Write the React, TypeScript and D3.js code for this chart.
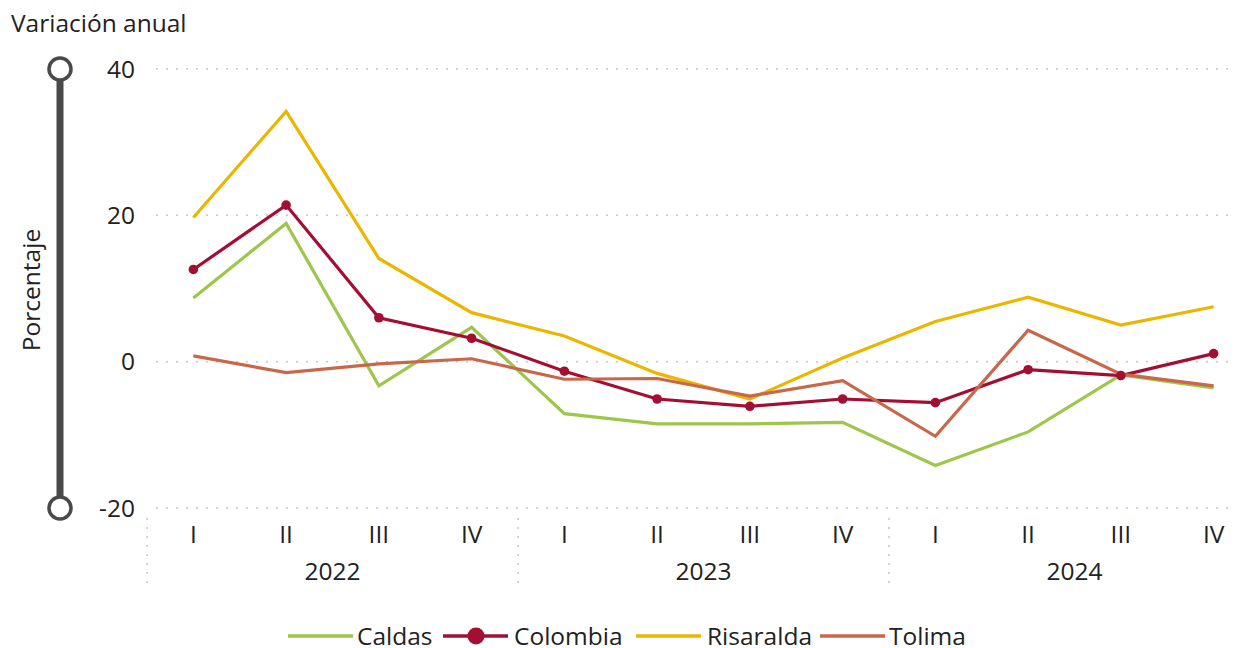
import React from "react";
import * as d3 from "d3";

const quarters = ["I", "II", "III", "IV", "I", "II", "III", "IV", "I", "II", "III", "IV"];
const years = ["2022", "2023", "2024"];

const caldas = [8.7, 18.9, -3.3, 4.7, -7.1, -8.5, -8.5, -8.3, -14.2, -9.6, -1.8, -3.6];
const colombia = [12.6, 21.4, 6.0, 3.2, -1.3, -5.1, -6.1, -5.1, -5.6, -1.1, -1.9, 1.1];
const risaralda = [19.7, 34.2, 14.1, 6.7, 3.5, -1.6, -5.1, 0.5, 5.5, 8.8, 5.0, 7.5];
const tolima = [0.8, -1.5, -0.3, 0.4, -2.4, -2.3, -4.7, -2.6, -10.2, 4.3, -1.7, -3.3];

const yTicks = [40, 20, 0, -20];

const series = [
  { name: "Caldas", values: caldas, color: "#9dc64a", marker: false },
  { name: "Colombia", values: colombia, color: "#a30e33", marker: true },
  { name: "Risaralda", values: risaralda, color: "#ebb600", marker: false },
  { name: "Tolima", values: tolima, color: "#c8674a", marker: false }
];

const W = 1237;
const H = 648;
const FONT = "'Open Sans', 'Noto Sans', sans-serif";
const FS = 24.5;
const left = 147;
const band = 92.75;

export default function App() {
  const x = d3
    .scaleBand<number>()
    .domain(d3.range(quarters.length))
    .range([left, left + band * quarters.length])
    .padding(0);
  const cx = (i: number) => (x(i) as number) + x.bandwidth() / 2;
  const y = d3.scaleLinear().domain([-20, 40]).range([508, 69]);

  const line = d3
    .line<number>()
    .x((d, i) => cx(i))
    .y(d => y(d));

  const colombiaSeries = series[1];

  // legend swatch start / text start
  const legendItems = [
    { s: series[0], x0: 288, tx: 357 },
    { s: series[1], x0: 443, tx: 514 },
    { s: series[2], x0: 636, tx: 707 },
    { s: series[3], x0: 820, tx: 889 }
  ];

  return (
    <svg
      width={W}
      height={H}
      style={{ position: "absolute", left: 0, top: 0, background: "#fff" }}
      fontFamily={FONT}
    >
      <text x={11} y={32} fontSize={FS} fill="#222">
        Variación anual
      </text>

      {/* y axis decoration */}
      <line x1={60} x2={60} y1={y(40)} y2={y(-20)} stroke="#4a4a4a" strokeWidth={7} />
      {[40, -20].map(v => (
        <circle key={v} cx={60} cy={y(v)} r={11} fill="#fff" stroke="#4a4a4a" strokeWidth={3.5} />
      ))}
      <text
        transform={`translate(40,${290}) rotate(-90)`}
        textAnchor="middle"
        fontSize={FS}
        fill="#222"
      >
        Porcentaje
      </text>

      {/* grid + tick labels */}
      {yTicks.map(t => (
        <g key={t}>
          <line
            x1={157}
            x2={W}
            y1={y(t)}
            y2={y(t)}
            stroke="#c4c4c4"
            strokeWidth={2}
            strokeDasharray="0 10"
            strokeLinecap="round"
          />
          <text x={135} y={y(t)} dy="0.35em" textAnchor="end" fontSize={FS} fill="#222">
            {t}
          </text>
        </g>
      ))}

      {/* x axis */}
      {quarters.map((q, i) => (
        <text key={i} x={cx(i)} y={543} textAnchor="middle" fontSize={FS} fill="#222">
          {q}
        </text>
      ))}
      {years.map((yr, j) => {
        const x0 = x(j * 4) as number;
        const x1 = x0 + band * 4;
        return (
          <g key={yr}>
            <text x={(x0 + x1) / 2} y={580} textAnchor="middle" fontSize={FS} fill="#222">
              {yr}
            </text>
            <line
              x1={x0}
              x2={x0}
              y1={519}
              y2={590}
              stroke="#c4c4c4"
              strokeWidth={2}
              strokeDasharray="0 9"
              strokeLinecap="round"
            />
          </g>
        );
      })}
      <line
        x1={left + band * 12}
        x2={left + band * 12}
        y1={519}
        y2={590}
        stroke="#c4c4c4"
        strokeWidth={2}
        strokeDasharray="0 9"
        strokeLinecap="round"
      />

      {/* series */}
      {series.map(s => (
        <path
          key={s.name}
          d={line(s.values) || ""}
          fill="none"
          stroke={s.color}
          strokeWidth={3.2}
          strokeLinejoin="miter"
        />
      ))}
      {colombiaSeries.values.map((v, i) => (
        <circle key={i} cx={cx(i)} cy={y(v)} r={4.8} fill={colombiaSeries.color} />
      ))}

      {/* legend */}
      {legendItems.map(({ s, x0, tx }) => (
        <g key={s.name}>
          <line x1={x0} x2={x0 + 65} y1={636} y2={636} stroke={s.color} strokeWidth={3.5} />
          {s.marker && <circle cx={x0 + 33} cy={636} r={8.5} fill={s.color} />}
          <text x={tx} y={636} dy="0.35em" fontSize={FS} fill="#222">
            {s.name}
          </text>
        </g>
      ))}
    </svg>
  );
}
